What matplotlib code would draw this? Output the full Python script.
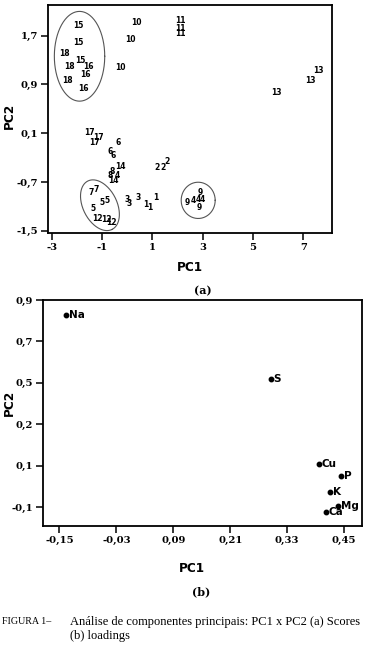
import numpy as np
import matplotlib
matplotlib.use('Agg')
import matplotlib.pyplot as plt

# (a) scores: sample label, PC1, PC2
score_labels = ['15', '15', '15', '18', '18', '18', '16', '16', '16',
                '10', '10', '10', '11', '11', '11', '13', '13', '13',
                '17', '17', '17', '6', '6', '6', '14', '14', '8', '8', '4',
                '2', '2', '2', '3', '3', '3', '1', '1', '1',
                '7', '7', '5', '5', '5', '12', '12', '12',
                '9', '9', '9', '4', '4', '4']
score_pc1 = [-1.94, -1.94, -1.85, -2.47, -2.27, -2.38, -1.55, -1.64, -1.74,
             0.35, 0.11, -0.26, 2.10, 2.10, 2.10, 7.59, 7.26, 5.94,
             -1.51, -1.15, -1.28, -0.35, -0.66, -0.55, -0.26, -0.55, -0.59, -0.66, -0.39,
             1.17, 1.43, 1.59, -0.02, 0.08, 0.44, 0.75, 0.91, 1.14,
             -1.44, -1.24, -0.99, -0.81, -1.35, -1.20, -0.84, -0.64,
             2.39, 2.92, 2.86, 2.63, 2.83, 3.00]
score_pc2 = [1.865, 1.59, 1.29, 1.41, 1.19, 0.96, 1.20, 1.06, 0.83,
             1.92, 1.63, 1.17, 1.95, 1.81, 1.73, 1.12, 0.97, 0.76,
             0.116, 0.033, -0.06, -0.05, -0.20, -0.26, -0.45, -0.68, -0.53, -0.59, -0.59,
             -0.47, -0.47, -0.36, -0.99, -1.05, -0.96, -1.07, -1.12, -0.96,
             -0.87, -0.82, -1.04, -1.01, -1.13, -1.30, -1.32, -1.36,
             -1.03, -0.87, -1.11, -1.01, -0.99, -0.98]

# groups circled in (a): centre and two semi-axis vectors (data units)
ellipse_centres = [(-1.89, 1.36), (-1.08, -1.08), (2.82, -1.0)]
ellipse_u = [(1.0, 0.0), (0.483, -0.396), (0.675, 0.0)]
ellipse_v = [(0.0, 0.735), (0.601, 0.126), (0.0, 0.297)]

# (b) loadings
load_vars = ['Na', 'S', 'Cu', 'P', 'K', 'Mg', 'Ca']
load_pc1 = [-0.136, 0.295, 0.397, 0.444, 0.420, 0.438, 0.411]
load_pc2 = [0.828, 0.519, 0.110, 0.052, -0.025, -0.092, -0.123]

xticks_a = [-3, -1, 1, 3, 5, 7]
yticks_a = [-1.5, -0.7, 0.1, 0.9, 1.7]
ytick_labels_a = ['-1,5', '-0,7', '0,1', '0,9', '1,7']
xticks_b = [-0.15, -0.03, 0.09, 0.21, 0.33, 0.45]
xtick_labels_b = ['-0,15', '-0,03', '0,09', '0,21', '0,33', '0,45']
yticks_b = [-0.1, 0.1, 0.3, 0.5, 0.7, 0.9]
ytick_labels_b = ['-0,1', '0,1', '0,2', '0,5', '0,7', '0,9']

W, H = 365, 649
fig = plt.figure(figsize=(W / 100, H / 100), dpi=100)

def px_axes(l, t, r, b):
    return fig.add_axes([l / W, 1 - b / H, (r - l) / W, (b - t) / H])

label_font = dict(family='DejaVu Sans', weight='bold', size=8.7)
letter_font = dict(family='DejaVu Serif', weight='bold', size=8)

def style(ax):
    for s in ax.spines.values():
        s.set_linewidth(1.3)
    ax.tick_params(direction='out', length=5, width=1.1, pad=2.5)
    for lab in ax.get_xticklabels() + ax.get_yticklabels():
        lab.set_fontfamily('DejaVu Serif')
        lab.set_fontweight('bold')
        lab.set_fontsize(7.2)

# ---- (a) scores
ax1 = px_axes(48.3, 5, 331.7, 232.7)
ax1.set_xlim(-3.13, 8.12)
ax1.set_ylim(-1.53, 2.2)
ax1.set_xticks(xticks_a)
ax1.set_xticklabels([str(v) for v in xticks_a])
ax1.set_yticks(yticks_a)
ax1.set_yticklabels(ytick_labels_a)
for lab, x, y in zip(score_labels, score_pc1, score_pc2):
    ax1.text(x, y, lab, ha='center', va='center', fontsize=5.5,
             fontweight='bold', family='DejaVu Sans')
t = np.linspace(0, 2 * np.pi, 200)
for c, u, v in zip(ellipse_centres, ellipse_u, ellipse_v):
    ex = c[0] + u[0] * np.cos(t) + v[0] * np.sin(t)
    ey = c[1] + u[1] * np.cos(t) + v[1] * np.sin(t)
    ax1.plot(ex, ey, color='#555555', lw=0.8)
style(ax1)
fig.text(190 / W, 1 - 268 / H, 'PC1', ha='center', va='center', **label_font)
fig.text(9 / W, 1 - 116 / H, 'PC2', ha='center', va='center', rotation=90, **label_font)
fig.text(203 / W, 1 - 291 / H, '(a)', ha='center', va='center', **letter_font)

# ---- (b) loadings
ax2 = px_axes(43.3, 300, 361.7, 526)
ax2.set_xlim(-0.184, 0.487)
ax2.set_ylim(-0.19, 0.9)
ax2.set_xticks(xticks_b)
ax2.set_xticklabels(xtick_labels_b)
ax2.set_yticks(yticks_b)
ax2.set_yticklabels(ytick_labels_b)
ax2.plot(load_pc1, load_pc2, 'o', color='black', markersize=3.2, clip_on=False)
for lab, x, y in zip(load_vars, load_pc1, load_pc2):
    ax2.annotate(lab, (x, y), xytext=(2, 0), textcoords='offset points',
                 ha='left', va='center', fontsize=7.5, fontweight='bold',
                 family='DejaVu Sans', annotation_clip=False)
style(ax2)
fig.text(192 / W, 1 - 568 / H, 'PC1', ha='center', va='center', **label_font)
fig.text(9 / W, 1 - 403 / H, 'PC2', ha='center', va='center', rotation=90, **label_font)
fig.text(201 / W, 1 - 592 / H, '(b)', ha='center', va='center', **letter_font)

# caption
fig.text(2 / W, 1 - 622 / H, 'FIGURA 1–', ha='left', va='center',
         family='Liberation Serif', fontsize=7.2)
fig.text(70 / W, 1 - 622 / H,
         'Análise de componentes principais: PC1 x PC2 (a) Scores',
         ha='left', va='center', family='Liberation Serif', fontsize=9.0)
fig.text(70 / W, 1 - 636 / H, '(b) loadings', ha='left', va='center',
         family='Liberation Serif', fontsize=9.0)

fig.savefig('out.png', dpi=100)
